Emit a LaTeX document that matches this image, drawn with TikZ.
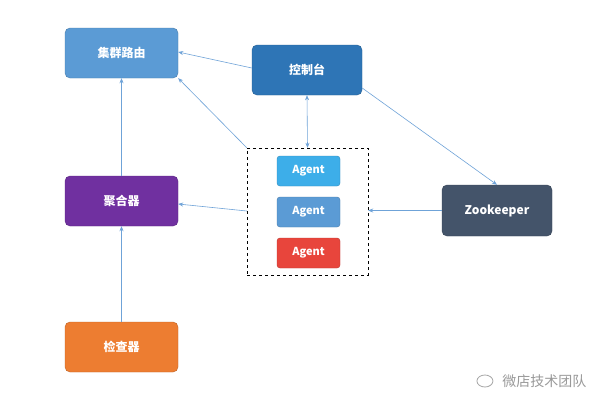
\documentclass[tikz,border=0pt]{standalone}
\usepackage{fontspec}
\newfontfamily\cjk{Noto Sans CJK SC}
\setmainfont{Noto Sans CJK SC}
\usetikzlibrary{arrows.meta,calc}
\definecolor{lb}{HTML}{5B9BD5}
\definecolor{db}{HTML}{2E75B6}
\definecolor{ab}{HTML}{3DAEE9}
\definecolor{rd}{HTML}{E8453C}
\definecolor{pu}{HTML}{7030A0}
\definecolor{zk}{HTML}{44546A}
\definecolor{or}{HTML}{ED7D31}
\definecolor{ar}{HTML}{6FA3D8}
\tikzset{
 box/.style={rounded corners=5pt,draw=#1!80!black,fill=#1,text=white,font=\fontsize{12}{14}\selectfont\bfseries,minimum width=113pt,minimum height=50pt,inner sep=0pt},
 ag/.style={rounded corners=3pt,draw=#1!80!black,fill=#1,text=white,font=\fontsize{11}{13}\selectfont\bfseries,minimum width=63pt,minimum height=30pt,inner sep=0pt},
 con/.style={draw=ar,line width=0.6pt,-{Stealth[length=5pt,width=4pt]}}
}
\begin{document}
\begin{tikzpicture}[x=1pt,y=-1pt]
\useasboundingbox[fill=white] (0,0) rectangle (600,408);
\node[box=lb] (r) at (121.5,53) {集群路由};
\node[box=db,minimum width=110pt] (c) at (307,70) {控制台};
\node[draw,dashed,minimum width=121pt,minimum height=127pt,inner sep=0pt] (d) at (307.5,211.5) {};
\node[ag=ab] (a1) at (308.5,171) {Agent};
\node[ag=lb] (a2) at (308.5,212) {Agent};
\node[ag=rd] (a3) at (308.5,253) {Agent};
\node[box=pu] (g) at (121.5,201) {聚合器};
\node[box=zk,minimum width=110pt,minimum height=51pt] (z) at (497,210.5) {Zookeeper};
\node[box=or] (k) at (121.5,347) {检查器};
\draw[con] (c.west |- 0,68) -- (r.east |- 0,52);
\draw[con] (d.north west) -- (r.south east);
\draw[con,{Stealth[length=5pt,width=4pt]}-{Stealth[length=5pt,width=4pt]}] (c.south) -- (d.north);
\draw[con] (c.south east |- 0,88) -- (z.north);
\draw[con] (z.west) -- (d.east |- z.west);
\draw[con] (d.west |- 0,211) -- (g.east |- 0,204);
\draw[con] (g.north) -- (r.south);
\draw[con] (k.north) -- (g.south);
\node[text=gray!80,font=\fontsize{14}{16}\selectfont,anchor=east] (w) at (590,381) {微店技术团队};
\draw[gray!70,line width=0.8pt] ($(w.west)+(-14,0)$) circle[x radius=8,y radius=6];
\end{tikzpicture}
\end{document}
